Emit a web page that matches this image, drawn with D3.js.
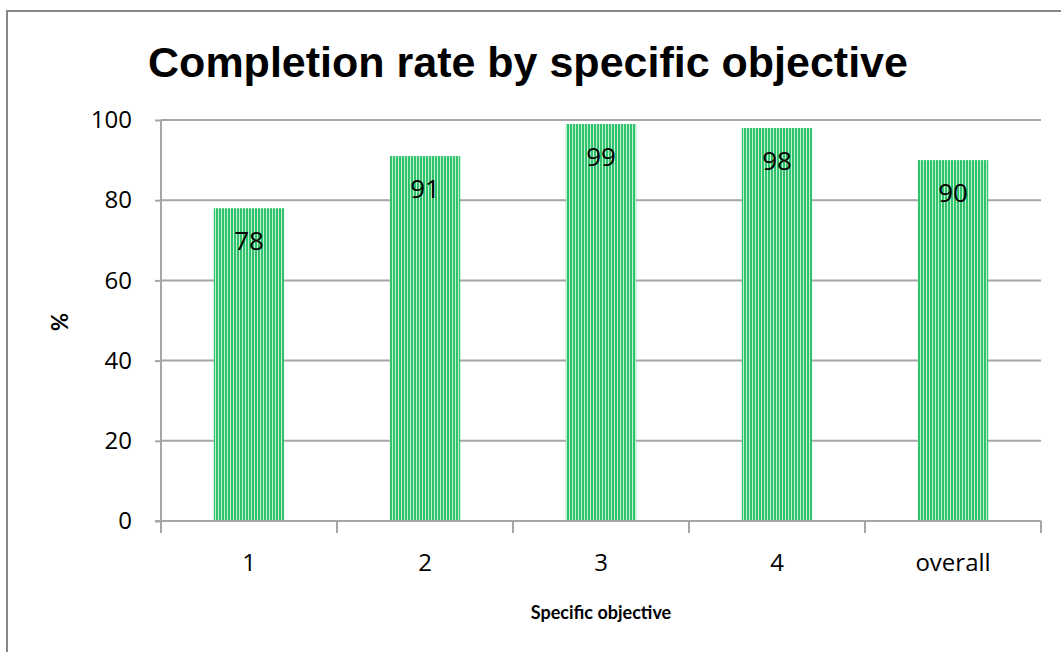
<!DOCTYPE html>
<html>
<head>
<meta charset="utf-8">
<script src="https://cdn.jsdelivr.net/npm/d3@7"></script>
<style>
  body { margin: 0; background: #fff; }
  svg { display: block; }
</style>
</head>
<body>
<svg id="chart" width="1061" height="652"></svg>
<script>
var categories = ["1", "2", "3", "4", "overall"];
var values = [78, 91, 99, 98, 90];
var yTicks = [0, 20, 40, 60, 80, 100];

var svg = d3.select("#chart");
var width = +svg.attr("width"), height = +svg.attr("height");

var plot = {left: 161, right: 1041, top: 120, bottom: 521};
var tickFont = "24px 'Open Sans', sans-serif";

var x = d3.scaleBand()
    .domain(categories)
    .range([plot.left, plot.right])
    .paddingInner(0.6)
    .paddingOuter(0.3);

var y = d3.scaleLinear()
    .domain([0, 100])
    .range([plot.bottom, plot.top]);

// striped fill like the excel pattern
var defs = svg.append("defs");
var pat = defs.append("pattern")
    .attr("id", "stripes")
    .attr("patternUnits", "userSpaceOnUse")
    .attr("width", 3)
    .attr("height", 10);
pat.append("rect").attr("x", 0).attr("y", 0).attr("width", 3).attr("height", 10).attr("fill", "#c6f0d6");
pat.append("rect").attr("x", 0).attr("y", 0).attr("width", 2).attr("height", 10).attr("fill", "#2fc46c");

// outer chart border
svg.append("rect")
   .attr("x", 7).attr("y", 11)
   .attr("width", width + 10).attr("height", height + 10)
   .attr("fill", "none")
   .attr("stroke", "#878787")
   .attr("stroke-width", 2);

svg.append("text")
   .text("Completion rate by specific objective")
   .attr("x", 528)
   .attr("y", 77)
   .attr("text-anchor", "middle")
   .style("font", "bold 43px 'Liberation Sans', Arial, sans-serif")
   .style("fill", "#000");

// gridlines
svg.append("g").selectAll("line")
   .data(yTicks.filter(function(d) { return d > 0; }))
   .join("line")
   .attr("x1", plot.left).attr("x2", plot.right)
   .attr("y1", function(d) { return y(d); })
   .attr("y2", function(d) { return y(d); })
   .attr("stroke", "#a6a6a6")
   .attr("stroke-width", 2);

// bars
svg.append("g").selectAll("rect")
   .data(values)
   .join("rect")
   .attr("x", function(d, i) { return x(categories[i]); })
   .attr("width", x.bandwidth())
   .attr("y", function(d) { return y(d); })
   .attr("height", function(d) { return y(0) - y(d); })
   .attr("fill", "url(#stripes)");

// value labels
svg.append("g").selectAll("text")
   .data(values)
   .join("text")
   .text(function(d) { return d; })
   .attr("x", function(d, i) { return x(categories[i]) + x.bandwidth() / 2; })
   .attr("y", function(d) { return y(d) + 42; })
   .attr("text-anchor", "middle")
   .style("font", "26px 'Open Sans', sans-serif")
   .style("fill", "#000");

// y axis
var yAxis = d3.axisLeft(y).tickValues(yTicks).tickSize(6).tickPadding(23);
var gy = svg.append("g").attr("transform", "translate(" + plot.left + ",0)").call(yAxis);
gy.select(".domain").attr("stroke", "#a6a6a6").attr("stroke-width", 2).attr("d", "M0," + (plot.bottom + 12) + "V" + plot.top);
gy.selectAll(".tick line").attr("stroke", "#a6a6a6").attr("stroke-width", 2);
gy.selectAll(".tick text").style("font", tickFont).style("fill", "#000");

// x axis, ticks sit between categories
var xAxis = d3.axisBottom(x).tickSize(0).tickPadding(33);
var gx = svg.append("g").attr("transform", "translate(0," + plot.bottom + ")").call(xAxis);
gx.select(".domain").attr("stroke", "#a6a6a6").attr("stroke-width", 2).attr("d", "M" + (plot.left - 6) + ",0H" + plot.right);
gx.selectAll(".tick text").style("font", tickFont).style("fill", "#000");

var bounds = d3.range(categories.length + 1).map(function(i) { return plot.left + i * (plot.right - plot.left) / categories.length; });
gx.append("g").selectAll("line")
  .data(bounds)
  .join("line")
  .attr("x1", function(d) { return d; }).attr("x2", function(d) { return d; })
  .attr("y1", 0).attr("y2", 12)
  .attr("stroke", "#a6a6a6")
  .attr("stroke-width", 2);

svg.append("text")
   .text("Specific objective")
   .attr("x", 601)
   .attr("y", 619)
   .attr("text-anchor", "middle")
   .style("font", "bold 18px Lato, 'Open Sans', sans-serif")
   .style("fill", "#000");

svg.append("text")
   .text("%")
   .attr("transform", "translate(68,322) rotate(-90)")
   .attr("text-anchor", "middle")
   .style("font", "bold 22px Lato, 'Open Sans', sans-serif")
   .style("fill", "#000");
</script>
</body>
</html>
